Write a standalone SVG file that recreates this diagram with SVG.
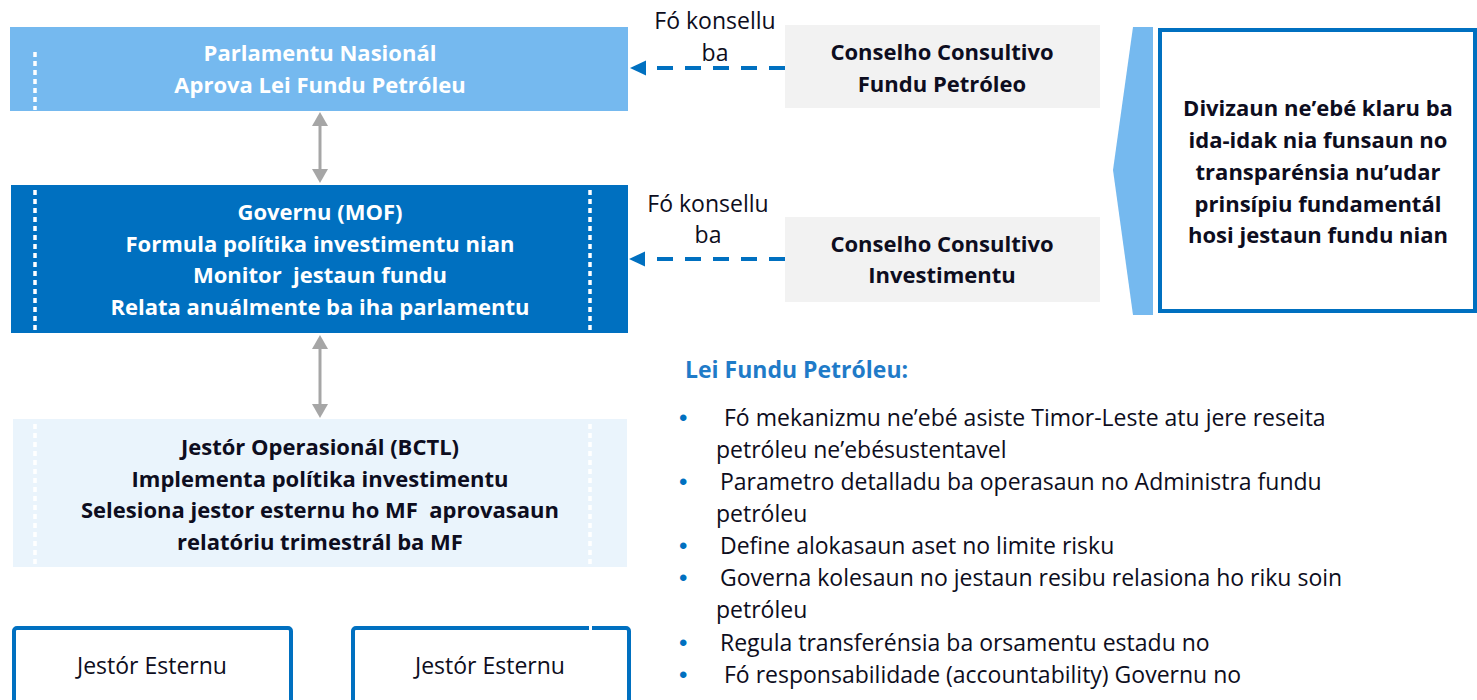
<svg xmlns="http://www.w3.org/2000/svg" width="1477" height="700" viewBox="0 0 1477 700">
<style>
.t{font-family:"Open Sans","Liberation Sans",sans-serif;font-size:23px;}
.b{font-weight:bold;font-size:22px;}
.h{font-weight:bold;font-size:23px;}
.c{text-anchor:middle;}
.w{fill:#ffffff;}
.d{fill:#0d0d20;}
.dot{stroke:#ffffff;stroke-width:3.5;stroke-dasharray:5 4;fill:none;}
.ga{stroke:#a6a6a6;stroke-width:3;fill:none;marker-start:url(#gh);marker-end:url(#gh);}
.ba{stroke:#0070c0;stroke-width:4;stroke-dasharray:16 12;fill:none;marker-end:url(#bh);}
.bul{fill:#0070c0;font-family:"Liberation Sans",sans-serif;font-size:24px;}
</style>
<defs>
<marker id="gh" markerUnits="userSpaceOnUse" markerWidth="14" markerHeight="16" refX="0" refY="8" orient="auto-start-reverse" viewBox="0 0 14 16">
<path d="M0,0 L14,8 L0,16 z" fill="#a6a6a6"/>
</marker>
<marker id="bh" markerUnits="userSpaceOnUse" markerWidth="16" markerHeight="16" refX="0" refY="8" orient="auto" viewBox="0 0 16 16">
<path d="M0,0.5 L16,8 L0,15.5 z" fill="#0070c0"/>
</marker>
</defs>
<rect width="1477" height="700" fill="#ffffff"/>

<g id="connectors">
<line class="ga" x1="320" y1="126" x2="320" y2="169"/>
<line class="ga" x1="320" y1="349" x2="320" y2="404"/>
<line class="ba" x1="785" y1="68" x2="646" y2="68"/>
<line class="ba" x1="785" y1="259" x2="645" y2="259"/>
<text class="t d c" x="715" y="29">Fó konsellu</text>
<text class="t d c" x="715" y="61">ba</text>
<text class="t d c" x="708" y="212">Fó konsellu</text>
<text class="t d c" x="708" y="243">ba</text>
</g>

<g id="parlamentu">
<rect x="10" y="27" width="618" height="84" fill="#75b9ef"/>
<line class="dot" x1="35" y1="52" x2="35" y2="110"/>
<text class="t b w c" x="320" y="61">Parlamentu Nasionál</text>
<text class="t b w c" x="320" y="93">Aprova Lei Fundu Petróleu</text>
</g>

<g id="governu">
<rect x="11" y="185" width="617" height="148" fill="#0070c0"/>
<line class="dot" x1="35" y1="190" x2="35" y2="333"/>
<line class="dot" x1="590" y1="190" x2="590" y2="333"/>
<text class="t b w c" x="320" y="220">Governu (MOF)</text>
<text class="t b w c" x="320" y="252">Formula polítika investimentu nian</text>
<text class="t b w c" x="320" y="283" xml:space="preserve">Monitor  jestaun fundu</text>
<text class="t b w c" x="320" y="315">Relata anuálmente ba iha parlamentu</text>
</g>

<g id="bctl">
<rect x="13" y="419" width="614" height="148" fill="#eaf4fc"/>
<line class="dot" x1="35" y1="424" x2="35" y2="567"/>
<line class="dot" x1="590" y1="424" x2="590" y2="567"/>
<text class="t b d c" x="320" y="455">Jestór Operasionál (BCTL)</text>
<text class="t b d c" x="320" y="487">Implementa polítika investimentu</text>
<text class="t b d c" x="320" y="518" xml:space="preserve">Selesiona jestor esternu ho MF  aprovasaun</text>
<text class="t b d c" x="320" y="550">relatóriu trimestrál ba MF</text>
</g>

<g id="jestor1">
<rect x="14" y="628" width="277" height="100" rx="3" fill="#ffffff" stroke="#0070c0" stroke-width="4"/>
<text class="t d c" x="152" y="674">Jestór Esternu</text>
</g>

<g id="jestor2">
<rect x="353" y="628" width="276" height="100" rx="3" fill="#ffffff" stroke="#0070c0" stroke-width="4"/>
<rect x="589" y="625" width="3" height="6" fill="#ffffff"/>
<text class="t d c" x="490" y="674">Jestór Esternu</text>
</g>

<g id="conselho-fundu">
<rect x="785" y="25" width="315" height="83" fill="#f2f2f2"/>
<text class="t b d c" x="942" y="60">Conselho Consultivo</text>
<text class="t b d c" x="942" y="92">Fundu Petróleo</text>
</g>

<g id="conselho-investimentu">
<rect x="785" y="217" width="315" height="85" fill="#f2f2f2"/>
<text class="t b d c" x="942" y="252">Conselho Consultivo</text>
<text class="t b d c" x="942" y="283">Investimentu</text>
</g>

<g id="prinsipiu">
<polygon points="1133,27 1153,27 1153,315 1133,315 1113,170" fill="#75b9ef"/>
<rect x="1160" y="30" width="315" height="281" fill="#ffffff" stroke="#0070c0" stroke-width="4"/>
<text class="t b d c" x="1318" y="116">Divizaun ne’ebé klaru ba</text>
<text class="t b d c" x="1318" y="148">ida-idak nia funsaun no</text>
<text class="t b d c" x="1318" y="180">transparénsia nu’udar</text>
<text class="t b d c" x="1318" y="212">prinsípiu fundamentál</text>
<text class="t b d c" x="1318" y="243">hosi jestaun fundu nian</text>
</g>

<g id="lei-fundu">
<text class="t h" x="685" y="378" fill="#1f7bc8">Lei Fundu Petróleu:</text>
<text class="bul" x="679" y="426">•</text>
<text class="t d" x="724" y="426">Fó mekanizmu ne’ebé asiste Timor-Leste atu jere reseita</text>
<text class="t d" x="716" y="458">petróleu ne’ebésustentavel</text>
<text class="bul" x="679" y="490">•</text>
<text class="t d" x="720" y="490">Parametro detalladu ba operasaun no Administra fundu</text>
<text class="t d" x="716" y="522">petróleu</text>
<text class="bul" x="679" y="554">•</text>
<text class="t d" x="720" y="554">Define alokasaun aset no limite risku</text>
<text class="bul" x="679" y="586">•</text>
<text class="t d" x="720" y="586">Governa kolesaun no jestaun resibu relasiona ho riku soin</text>
<text class="t d" x="716" y="618">petróleu</text>
<text class="bul" x="679" y="651">•</text>
<text class="t d" x="720" y="651">Regula transferénsia ba orsamentu estadu no</text>
<text class="bul" x="679" y="683">•</text>
<text class="t d" x="724" y="683">Fó responsabilidade (accountability) Governu no</text>
</g>
</svg>
